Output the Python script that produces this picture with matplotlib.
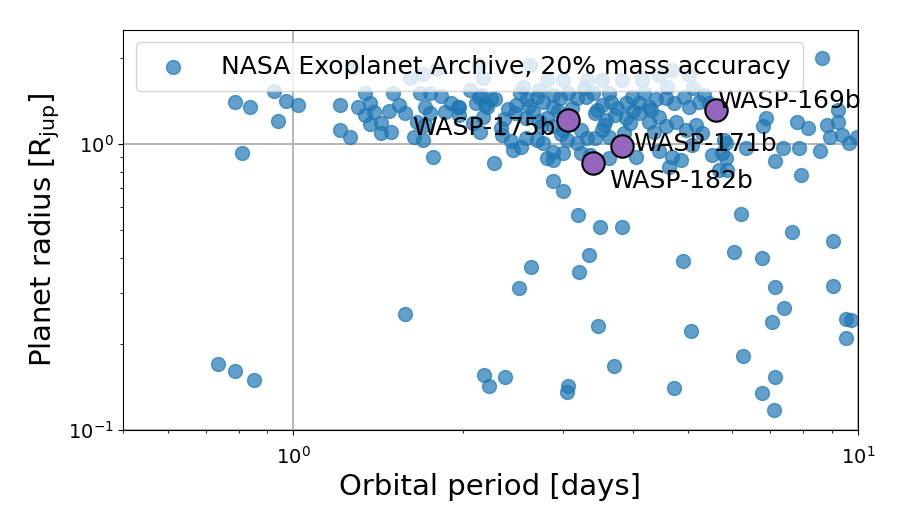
import numpy as np
import matplotlib
matplotlib.use('Agg')
import matplotlib.pyplot as plt

#%% NASA archive planets (period [d], radius [Rjup])
period = [
    0.79, 0.84, 0.925, 0.97, 1.02, 0.94, 0.81,
    1.21, 1.30, 1.34, 1.365, 1.34, 1.39, 1.43, 1.365, 1.43, 1.50, 1.54, 1.48, 1.49, 1.58,
    1.21, 1.26, 1.68, 1.75, 1.83, 1.71, 1.90, 1.75, 1.86, 1.66, 1.71, 1.64, 1.70, 1.77,
    1.97, 2.06, 2.13, 2.19, 2.24, 2.17, 1.96, 1.97, 2.11, 2.20, 2.08, 2.14, 2.27,
    1.61, 1.70, 1.80, 2.17, 2.13, 1.27, 2.63, 2.81, 3.01, 2.72, 3.31, 4.44, 4.69, 5.02,
    3.82, 4.14, 3.52,
    2.15, 2.28, 2.33, 2.34, 2.43, 2.53, 2.45, 2.58, 2.70, 2.77, 2.89, 2.81, 2.48, 2.52,
    2.59, 2.47, 2.58, 2.66, 2.70, 2.77, 2.89, 2.89, 2.97, 3.07, 3.18, 3.30, 2.81, 3.01,
    2.89, 2.75, 3.23, 3.31, 3.18, 3.05, 3.23, 3.36, 3.01, 2.89,
    3.40, 3.62, 3.52, 3.66, 3.88, 3.98, 4.09, 4.18, 4.27, 4.39, 4.57, 4.72, 4.92, 5.02,
    5.24, 5.34, 5.45, 3.42, 3.58, 3.72, 3.88, 4.09, 4.27, 4.44, 4.57, 4.76, 4.96, 5.17,
    5.30, 3.52, 3.42, 3.62, 4.04, 3.62, 4.69, 4.86, 4.63, 4.44, 5.75, 5.68,
    8.63, 6.89, 6.80, 7.82, 8.15, 8.84, 9.21, 9.23, 8.92, 9.64, 9.96, 7.36, 7.88, 8.56,
    7.15, 7.95, 5.87, 5.80, 6.35, 5.84, 5.84, 5.52, 5.09, 9.37,
    2.88, 3.01, 3.19, 3.49, 3.83, 3.34, 2.64, 3.21, 2.51, 4.90, 6.22, 6.04, 6.78, 7.66,
    9.03, 7.15, 9.06,
    0.735, 0.789, 0.852, 1.576, 2.18, 2.22, 2.37, 3.07, 3.06, 3.47, 3.70, 4.72, 5.07,
    6.27, 6.78, 7.15, 7.11, 7.39, 7.06, 9.52, 9.72, 9.52,
    # extra ones in the crowded band
    2.40, 2.62, 2.95, 3.12, 3.45, 3.75, 4.00, 4.30, 2.36, 2.72, 3.10, 3.55, 3.95, 4.35,
    2.55, 3.28, 4.60, 5.10, 2.98, 3.85,
]
radius = [
    1.40, 1.34, 1.53, 1.41, 1.37, 1.20, 0.93,
    1.37, 1.34, 1.50, 1.39, 1.26, 1.29, 1.18, 1.17, 1.09, 1.50, 1.37, 1.30, 1.10, 1.28,
    1.12, 1.06, 1.50, 1.51, 1.47, 1.35, 1.39, 1.28, 1.29, 1.19, 1.165, 1.06, 1.03, 0.90,
    1.34, 1.54, 1.46, 1.37, 1.43, 1.24, 1.35, 1.26, 1.39, 1.34, 1.18, 1.10, 0.86,
    1.70, 1.76, 1.83, 1.70, 1.89, 1.86, 1.89, 1.67, 1.67, 1.54, 1.67, 1.74, 1.81, 1.74,
    1.67, 1.67, 1.67,
    1.48, 1.43, 1.14, 1.07, 1.02, 0.976, 0.953, 1.05, 1.03, 1.01, 0.938, 0.89, 1.37, 1.51,
    1.43, 1.28, 1.23, 1.29, 1.46, 1.40, 1.48, 1.35, 1.45, 1.51, 1.45, 1.46, 1.23, 1.12,
    1.15, 1.15, 1.12, 1.05, 1.01, 1.03, 0.93, 0.915, 0.93, 0.88,
    1.51, 1.51, 1.37, 1.40, 1.39, 1.46, 1.39, 1.51, 1.35, 1.43, 1.45, 1.39, 1.46, 1.35,
    1.40, 1.48, 1.39, 1.28, 1.21, 1.26, 1.23, 1.28, 1.19, 1.24, 1.15, 1.19, 1.12, 1.165,
    1.09, 1.12, 1.05, 1.06, 0.90, 0.89, 0.90, 0.88, 0.83, 0.94, 0.93, 0.81,
    2.00, 1.23, 1.15, 1.19, 1.14, 1.165, 1.31, 1.19, 1.06, 1.01, 1.06, 0.97, 0.97, 0.945,
    0.87, 0.78, 0.81, 1.03, 0.97, 1.01, 0.89, 0.915, 0.99, 1.075,
    0.743, 0.685, 0.565, 0.513, 0.513, 0.409, 0.371, 0.357, 0.314, 0.390, 0.569, 0.419,
    0.399, 0.492, 0.458, 0.316, 0.319,
    0.170, 0.161, 0.150, 0.255, 0.156, 0.143, 0.153, 0.1425, 0.136, 0.231, 0.1675, 0.140,
    0.222, 0.1815, 0.1346, 0.153, 0.1175, 0.267, 0.239, 0.244, 0.2425, 0.21,
    1.32, 1.36, 1.30, 1.33, 1.31, 1.33, 1.30, 1.31, 1.22, 1.20, 1.22, 1.16, 1.18, 1.10,
    1.58, 1.57, 1.58, 1.57, 1.08, 1.09,
]

# WASP planets
wasp_names = ['WASP-175b', 'WASP-171b', 'WASP-182b', 'WASP-169b']
wasp_period = [3.07, 3.82, 3.39, 5.61]
wasp_radius = [1.21, 0.98, 0.86, 1.31]
label_offsets = [(-9, -6), (8, 2), (12, -13), (1, 7)]
label_ha = ['right', 'left', 'left', 'left']

#%%
fig, ax = plt.subplots(figsize=(9, 5.25), dpi=100)
fig.subplots_adjust(left=0.137, right=0.953, bottom=0.181, top=0.943)

ax.scatter(period, radius, s=100, color='C0', alpha=0.7,
           label='NASA Exoplanet Archive, 20% mass accuracy', zorder=2)
ax.scatter(wasp_period, wasp_radius, s=260, color='C4', edgecolor='k', lw=1.5, zorder=3)

for name, p, r, off, ha in zip(wasp_names, wasp_period, wasp_radius, label_offsets, label_ha):
    ax.annotate(name, (p, r), xytext=off, textcoords='offset points',
                ha=ha, va='center', fontsize=18, zorder=4)

ax.set_xscale('log')
ax.set_yscale('log')
ax.set_xlim(0.5, 10)
ax.set_ylim(0.1, 2.5)
ax.grid(True, which='major', color='#b0b0b0', lw=1.3)
ax.set_axisbelow(True)

ax.set_xlabel('Orbital period [days]', fontsize=21)
ax.set_ylabel(r'Planet radius [R$_{\rm jup}$]', fontsize=21)
ax.tick_params(labelsize=14)
ax.tick_params(axis='x', pad=8)
ax.legend(loc='upper left', fontsize=18, borderpad=0.5, handletextpad=0.9)

fig.savefig('out.png', dpi=100)
